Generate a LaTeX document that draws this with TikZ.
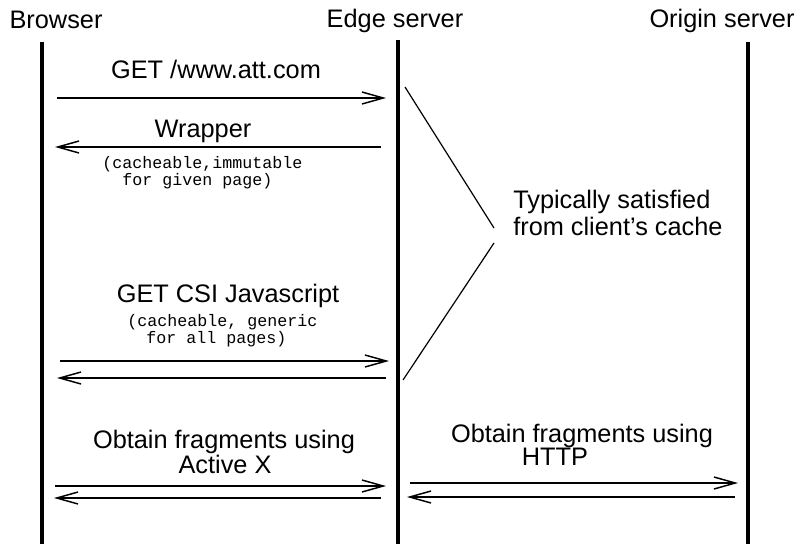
\documentclass[tikz,border=0pt]{standalone}
\usepackage{fontspec}
\setmainfont{Liberation Sans}
\newfontfamily\monofont{Liberation Mono}
\usetikzlibrary{arrows.meta}
\begin{document}
\begin{tikzpicture}[x=0.75pt,y=-0.75pt,
  lbl/.style={font=\fontsize{19}{21}\selectfont,inner sep=0pt,anchor=base},
  mono/.style={font=\monofont\fontsize{12.5}{13}\selectfont,inner sep=0pt,anchor=base west},
  life/.style={line width=2.4pt},
  msg/.style={line width=1.1pt,-{Straight Barb[length=16pt,width=9pt,line width=1.1pt]}},
  brace/.style={line width=0.9pt}]
\useasboundingbox (0,0) rectangle (799,544);
% headers
\node[lbl] (hb) at (56,28) {Browser};
\node[lbl] (he) at (395,27) {Edge server};
\node[lbl] (ho) at (722,27) {Origin server};
% lifelines
\coordinate (bt) at (42,42); \coordinate (bb) at (42,544);
\coordinate (et) at (398,40); \coordinate (eb) at (398,544);
\coordinate (ot) at (748,42); \coordinate (ob) at (748,544);
\draw[life] (bt) -- (bb);
\draw[life] (et) -- (eb);
\draw[life] (ot) -- (ob);
% message 1
\node[lbl] (m1) at (216,78) {GET /www.att.com};
\coordinate (a1s) at (57,98); \coordinate (a1e) at (386,98);
\draw[msg] (a1s) -- (a1e);
% message 2
\node[lbl] (m2) at (203,137) {Wrapper};
\coordinate (a2s) at (381,147); \coordinate (a2e) at (55,147);
\draw[msg] (a2s) -- (a2e);
\node[mono] (n2a) at (102,168) {(cacheable,immutable};
\node[mono] (n2b) at (122,185) {for given page)};
% message 3
\node[lbl] (m3) at (228,302) {GET CSI Javascript};
\node[mono] (n3a) at (127,326) {(cacheable, generic};
\node[mono] (n3b) at (146,343) {for all pages)};
\coordinate (a3s) at (60,361); \coordinate (a3e) at (389,361);
\draw[msg] (a3s) -- (a3e);
\coordinate (a4s) at (386,378); \coordinate (a4e) at (57,378);
\draw[msg] (a4s) -- (a4e);
% cache bracket
\coordinate (c1) at (405,87); \coordinate (c2) at (494,228);
\coordinate (c3) at (494,243); \coordinate (c4) at (403,380);
\draw[brace] (c1) -- (c2);
\draw[brace] (c3) -- (c4);
\node[lbl,anchor=base west] (cache1) at (513,208) {Typically satisfied};
\node[lbl,anchor=base west] (cache2) at (513,235) {from client’s cache};
% fragments via Active X
\node[lbl] (f1) at (224,448) {Obtain fragments using};
\node[lbl] (f1b) at (225,473) {Active X};
\coordinate (a5s) at (55,486); \coordinate (a5e) at (386,486);
\draw[msg] (a5s) -- (a5e);
\coordinate (a6s) at (381,498); \coordinate (a6e) at (54,498);
\draw[msg] (a6s) -- (a6e);
% fragments via HTTP
\node[lbl] (f2) at (582,442) {Obtain fragments using};
\node[lbl] (f2b) at (555,465) {HTTP};
\coordinate (a7s) at (410,483); \coordinate (a7e) at (738,483);
\draw[msg] (a7s) -- (a7e);
\coordinate (a8s) at (735,497); \coordinate (a8e) at (407,497);
\draw[msg] (a8s) -- (a8e);
\end{tikzpicture}
\end{document}
